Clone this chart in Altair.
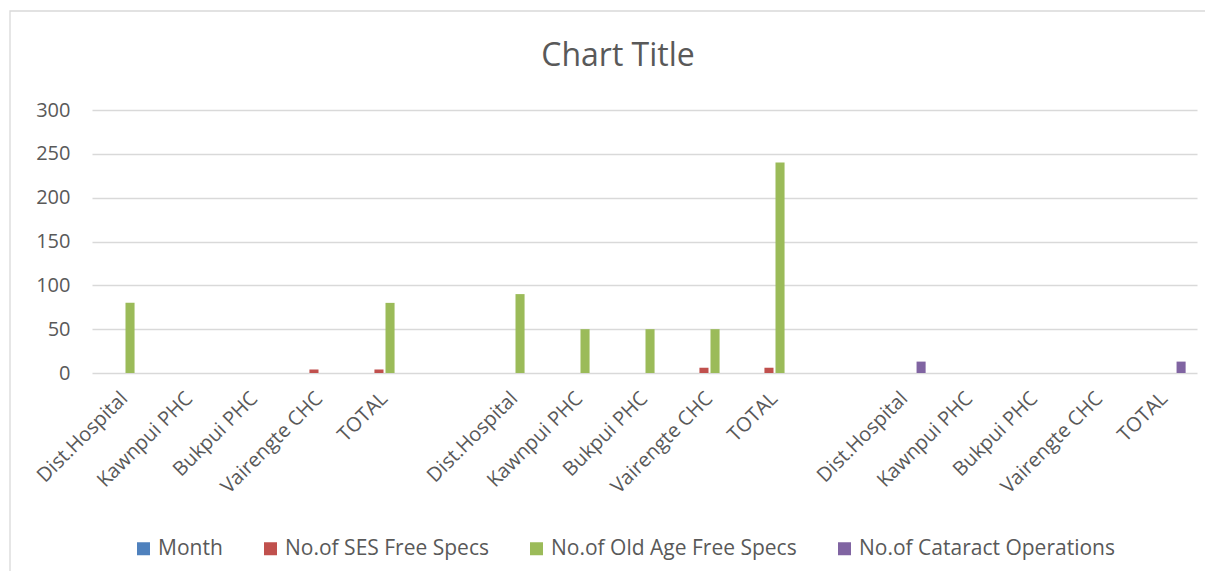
import altair as alt
import pandas as pd

# ---- data ----
facilities = ["Dist.Hospital", "Kawnpui PHC", "Bukpui PHC", "Vairengte CHC", "TOTAL"]
groups = ["1", "2", "3"]
series_names = ["Month", "No.of SES Free Specs", "No.of Old Age Free Specs", "No.of Cataract Operations"]
series_colors = ["#4F81BD", "#C0504D", "#9BBB59", "#8064A2"]
chart_title = "Chart Title"

month_values = [0, 0, 0, 0, 0, 0, 0, 0, 0, 0, 0, 0, 0, 0, 0]
ses_values = [0, 0, 0, 4, 4, 0, 0, 0, 6, 6, 0, 0, 0, 0, 0]
old_age_values = [80, 0, 0, 0, 80, 90, 50, 50, 50, 240, 0, 0, 0, 0, 0]
cataract_values = [0, 0, 0, 0, 0, 0, 0, 0, 0, 0, 13, 0, 0, 0, 13]

# ---- build the table ----
slot_keys = []
row_keys = []
for gi, g in enumerate(groups):
    for f in facilities:
        k = f"{g}|{f}"
        slot_keys.append(k)
        row_keys.append(k)
    if gi < len(groups) - 1:
        slot_keys.append(f"gap{g}|")

records = []
for s, vals in zip(series_names, [month_values, ses_values, old_age_values, cataract_values]):
    for k, v in zip(row_keys, vals):
        records.append({"slot": k, "series": s, "value": v})
df = pd.DataFrame(records)

FONT = "Open Sans"
TXT = "#595959"
GRID = "#D9D9D9"

bars = alt.Chart(df).mark_bar().encode(
    x=alt.X("slot:N", sort=slot_keys,
            scale=alt.Scale(domain=slot_keys, paddingInner=0.35, paddingOuter=0.175),
            axis=alt.Axis(title=None, labelAngle=-45, labelAlign="right", labelBaseline="middle",
                          labelExpr="split(datum.value, '|')[1]", ticks=False, domain=False,
                          labelPadding=22, labelFont=FONT, labelFontSize=20, labelColor=TXT,
                          grid=False)),
    xOffset=alt.XOffset("series:N", sort=series_names,
                        scale=alt.Scale(domain=series_names, paddingInner=0.18, paddingOuter=0)),
    y=alt.Y("value:Q", scale=alt.Scale(domain=[0, 300]),
            axis=alt.Axis(title=None, values=[0, 50, 100, 150, 200, 250, 300], ticks=False,
                          domain=False, gridColor=GRID, gridWidth=1.3, labelPadding=22,
                          labelFont=FONT, labelFontSize=20, labelColor=TXT)),
    color=alt.Color("series:N", sort=series_names,
                    scale=alt.Scale(domain=series_names, range=series_colors),
                    legend=alt.Legend(title=None, orient="none", direction="horizontal",
                                      legendX=41, legendY=428, symbolType="square",
                                      symbolSize=169, symbolStrokeWidth=0, symbolOpacity=1,
                                      labelFont=FONT, labelFontSize=21, labelColor=TXT,
                                      labelOffset=4, columnPadding=37, labelLimit=400)),
)

one_row = pd.DataFrame({"a": [0]})

border = alt.Chart(one_row).mark_rect(
    fillOpacity=0, stroke=GRID, strokeWidth=1.3
).encode(
    x=alt.value(-82), x2=alt.value(1140), y=alt.value(-99), y2=alt.value(480)
)

title = alt.Chart(one_row).mark_text(
    font=FONT, fontSize=32, color=TXT, align="center", baseline="alphabetic"
).encode(
    x=alt.value(526), y=alt.value(-44), text=alt.value(chart_title)
)

chart = alt.layer(border, title, bars).properties(
    width=1105, height=263,
    autosize=alt.AutoSizeParams(type="none"),
    padding={"left": 84, "top": 102, "right": 8, "bottom": 198},
).configure_view(stroke=None)

chart.save("out.html", embed_options={"renderer": "svg", "actions": False})
